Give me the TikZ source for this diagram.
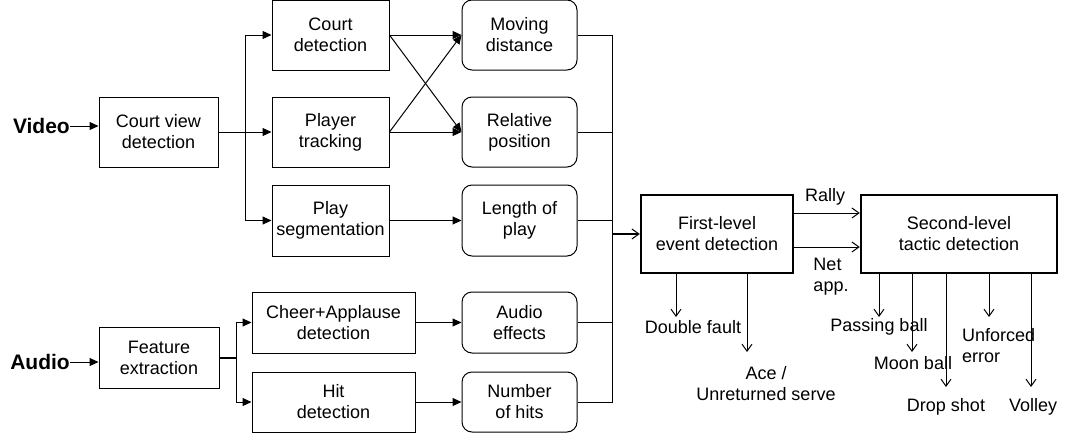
\documentclass[tikz,border=0pt]{standalone}
\usepackage{fontspec}
\setmainfont{Liberation Sans}
\usetikzlibrary{arrows.meta}

\tikzset{
  txt/.style={font=\fontsize{18}{21}\selectfont},
  blk/.style={txt, draw, line width=1pt, align=center, inner sep=0pt},
  sqbox/.style={blk, minimum width=117pt, minimum height=70pt},
  rbox/.style={blk, rounded corners=10pt, minimum width=115pt, minimum height=70pt},
  mainbox/.style={blk, line width=2.5pt, minimum height=78pt},
  src/.style={font=\fontsize{21}{25}\selectfont\bfseries, inner sep=0pt},
  lbl/.style={txt, inner sep=0pt, align=center},
  fwd/.style={line width=1pt, -{Triangle[length=9pt,width=8pt]}},
  open/.style={line width=1pt, -{Straight Barb[length=7pt,width=10pt,line width=1pt]}},
  wire/.style={line width=1pt},
}

\begin{document}
\begin{tikzpicture}[x=1pt,y=-1pt]
\useasboundingbox (0,0) rectangle (1083,434);

% ---- video branch ----
\node[src, anchor=east] (video) at (70,126) {Video};
\node[sqbox, minimum width=119pt] (cv) at (158.5,132) {Court view\\detection};
\node[sqbox] (cd) at (330.5,35) {Court\\detection};
\node[sqbox] (pt) at (330.5,132) {Player\\tracking};
\node[sqbox, minimum height=71pt] (ps) at (330.5,220.5) {Play\\segmentation};

\node[rbox] (md) at (519.5,35) {Moving\\distance};
\node[rbox] (rp) at (519.5,132) {Relative\\position};
\node[rbox, minimum height=71pt] (lp) at (519.5,220.5) {Length of\\play};

% ---- audio branch ----
\node[src, anchor=east] (audio) at (70,362) {Audio};
\node[sqbox, minimum width=120pt, minimum height=61pt] (fe) at (159,357.5) {Feature\\extraction};
\node[sqbox, minimum width=163pt, minimum height=61pt] (ca) at (333.5,322.5) {Cheer+Applause\\detection};
\node[sqbox, minimum width=163pt, minimum height=60pt] (hd) at (333.5,402) {Hit\\detection};

\node[rbox, minimum height=61pt] (ae) at (519.5,322.5) {Audio\\effects};
\node[rbox, minimum height=60pt] (nh) at (519.5,402) {Number\\of hits};

% ---- detection stages ----
\node[mainbox, minimum width=152pt] (fl) at (717,234) {First-level\\event detection};
\node[mainbox, minimum width=196pt] (sl) at (959,234) {Second-level\\tactic detection};

% junction and bus points
\coordinate (vj) at (245,132);
\coordinate (aj) at (236,357.5);
\coordinate (bus) at (612,234);

% video links
\draw[fwd] (video.east) -- (cv.west |- video.east);
\draw[wire] (cv.east) -- (vj);
\draw[fwd] (vj) -- (pt.west);
\draw[fwd] (vj) |- (cd.west);
\draw[fwd] (vj) |- (ps.west);
\draw[fwd] (cd.east) -- (md.west);
\draw[fwd] (pt.east) -- (rp.west);
\draw[fwd] (cd.east) -- (rp.west);
\draw[fwd] (pt.east) -- (md.west);
\draw[fwd] (ps.east) -- (lp.west);

% audio links
\draw[fwd] (audio.east) -- (fe.west |- audio.east);
\draw[wire, line width=2pt] (fe.east) -- (aj);
\draw[fwd] (aj) |- (ca.west);
\draw[fwd] (aj) |- (hd.west);
\draw[fwd] (ca.east) -- (ae.west);
\draw[fwd] (hd.east) -- (nh.west);

% feature bus
\draw[wire] (md.east) -| (bus |- nh.east) -- (nh.east);
\draw[wire] (rp.east) -- (bus |- rp.east);
\draw[wire] (lp.east) -- (bus |- lp.east);
\draw[wire] (ae.east) -- (bus |- ae.east);
\draw[open, line width=2pt] (bus) -- (fl.west);

% between the two stages
\draw[open] ([yshift=21pt]fl.east) -- ([yshift=21pt]sl.west);
\draw[open] ([yshift=-13pt]fl.east) -- ([yshift=-13pt]sl.west);
\node[lbl] (rally) at (825,197) {Rally};
\node[lbl, align=left] (netapp) at (831,277) {Net\\app.};

% first-level outcomes
\coordinate (df) at (676,317);
\coordinate (ace) at (747,352);
\draw[open] (fl.south -| df) -- (df);
\draw[open] (fl.south -| ace) -- (ace);
\node[lbl] (dft) at (693,327) {Double fault};
\node[lbl] (acet) at (766,384) {Ace /\\Unreturned serve};

% second-level outcomes
\coordinate (pb) at (879,317);
\coordinate (mb) at (912,352);
\coordinate (ds) at (946,387);
\coordinate (ue) at (989,317);
\coordinate (vo) at (1031,387);
\draw[open] (sl.south -| pb) -- (pb);
\draw[open] (sl.south -| mb) -- (mb);
\draw[open] (sl.south -| ds) -- (ds);
\draw[open] (sl.south -| ue) -- (ue);
\draw[open] (sl.south -| vo) -- (vo);
\node[lbl] (pbt) at (879,327) {Passing ball};
\node[lbl] (mbt) at (913,363) {Moon ball};
\node[lbl] (dst) at (946,407) {Drop shot};
\node[lbl, align=left, anchor=west] (uet) at (962,346) {Unforced\\error};
\node[lbl] (vot) at (1033,407) {Volley};
\end{tikzpicture}
\end{document}
